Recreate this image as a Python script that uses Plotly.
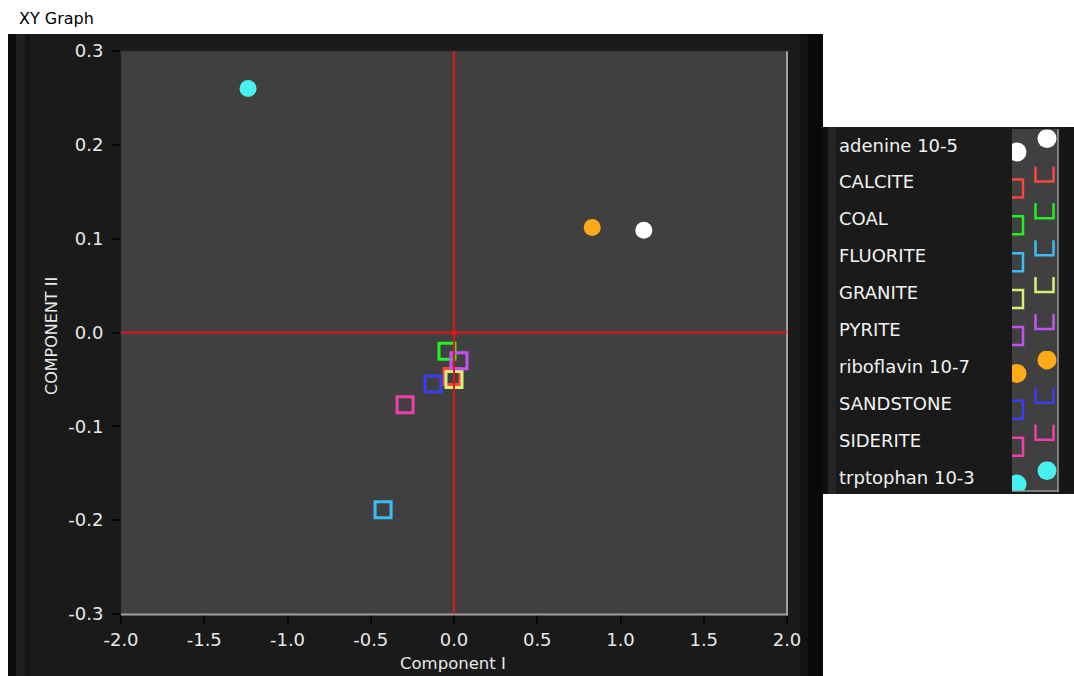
import plotly.graph_objects as go

# ---- data -------------------------------------------------------------
names = ["adenine 10-5", "CALCITE", "COAL", "FLUORITE", "GRANITE", "PYRITE",
         "riboflavin 10-7", "SANDSTONE", "SIDERITE", "trptophan 10-3"]
component_1 = [1.14, -0.012, -0.042, -0.426, 0.000, 0.030, 0.83, -0.126, -0.294, -1.237]
component_2 = [0.109, -0.047, -0.020, -0.189, -0.050, -0.030, 0.112, -0.055, -0.077, 0.260]
colors = ["#ffffff", "#ff4242", "#22f022", "#3cbcf5", "#d6f273", "#c352f2",
          "#ffab18", "#3c3cf5", "#f040a8", "#46f2f0"]
symbols = ["circle", "square-open", "square-open", "square-open", "square-open",
           "square-open", "circle", "square-open", "square-open", "circle"]

x_ticks = [-2.0, -1.5, -1.0, -0.5, 0.0, 0.5, 1.0, 1.5, 2.0]
x_tick_text = ["-2.0", "-1.5", "-1.0", "-0.5", "0.0", "0.5", "1.0", "1.5", "2.0"]
y_ticks = [-0.3, -0.2, -0.1, 0.0, 0.1, 0.2, 0.3]
y_tick_text = ["-0.3", "-0.2", "-0.1", "0.0", "0.1", "0.2", "0.3"]
cursor = (0.0, 0.0)

# ---- page geometry helpers (pixels -> paper fraction) -----------------
W, H = 1074, 676
def px(x):
    return x / W
def py(y):
    return 1 - y / H

FONT = "DejaVu Sans"
TXT = "#e8e8e8"
PLOT_BG = "#404040"
PANEL = "#1a1a1a"

fig = go.Figure()

# main scatter plots
for n, x, y, c, s in zip(names, component_1, component_2, colors, symbols):
    is_open = s.endswith("open")
    fig.add_trace(go.Scatter(
        x=[x], y=[y], mode="markers", name=n, showlegend=False,
        marker=dict(symbol=s, size=16 if is_open else 17, color=c,
                    line=dict(color=c, width=3 if is_open else 0)),
        xaxis="x", yaxis="y"))

# cursor marker at the cross-hair intersection
fig.add_trace(go.Scatter(x=[cursor[0]], y=[cursor[1]], mode="markers",
                         showlegend=False, hoverinfo="skip",
                         marker=dict(symbol="square", size=5, color="#e01616"),
                         xaxis="x", yaxis="y"))

# ---- plot legend: one clipped strip per row in the marker column -------
COL_X0, COL_X1, COL_Y0, COL_Y1 = 1012, 1058, 129, 491
ROW0, ROW_H = 145.0, 36.9
legend_axes = {}
annotations = []
for i, (n, c, s) in enumerate(zip(names, colors, symbols)):
    k = i + 2
    yc = ROW0 + ROW_H * i
    top_raw = yc - 15.5
    top = max(COL_Y0, top_raw)
    bottom = min(COL_Y1, top_raw + ROW_H)
    legend_axes[f"xaxis{k}"] = dict(domain=[px(COL_X0), px(COL_X1)], range=[0, COL_X1 - COL_X0],
                                    visible=False, anchor=f"y{k}", fixedrange=True,
                                    automargin=False)
    legend_axes[f"yaxis{k}"] = dict(domain=[py(bottom), py(top)], range=[bottom, top],
                                    visible=False, anchor=f"x{k}", fixedrange=True,
                                    automargin=False)
    is_open = s.endswith("open")
    if is_open:
        spots = [(2, yc + 6.5), (32.5, yc - 9.5)]
        mk = dict(symbol=s, size=18, color=c, line=dict(color=c, width=2.5))
    else:
        spots = [(5, yc + 7), (35, yc - 6.5)]
        mk = dict(symbol=s, size=19, color=c, line=dict(width=0))
    fig.add_trace(go.Scatter(
        x=[p[0] for p in spots], y=[p[1] for p in spots], mode="markers",
        showlegend=False, hoverinfo="skip", cliponaxis=True, marker=mk,
        xaxis=f"x{k}", yaxis=f"y{k}"))
    annotations.append(dict(text=n, x=px(837), xref="paper", xanchor="left",
                            y=py(yc), yref="paper", yanchor="middle", showarrow=False,
                            font=dict(family=FONT, size=18, color="#f2f2f2")))

annotations += [
    dict(text="XY Graph", x=px(17), y=py(18), xref="paper", yref="paper",
         xanchor="left", yanchor="middle", showarrow=False,
         font=dict(family=FONT, size=16, color="#000000")),
    dict(text="Component I", x=px(453), y=py(663), xref="paper", yref="paper",
         xanchor="center", yanchor="middle", showarrow=False,
         font=dict(family=FONT, size=16.5, color=TXT)),
    dict(text="COMPONENT II", x=px(51), y=py(336), xref="paper", yref="paper",
         xanchor="center", yanchor="middle", showarrow=False, textangle=-90,
         font=dict(family=FONT, size=16, color=TXT)),
]

def rect(x0, y0, x1, y1, fill, layer="below"):
    return dict(type="rect", xref="paper", yref="paper",
                x0=px(x0), x1=px(x1), y0=py(y1), y1=py(y0),
                fillcolor=fill, line=dict(width=0), layer=layer)

def hline(x0, x1, y, color, w):
    return dict(type="line", xref="paper", yref="paper", x0=px(x0), x1=px(x1),
                y0=py(y), y1=py(y), line=dict(color=color, width=w), layer="above")

def vline(x, y0, y1, color, w):
    return dict(type="line", xref="paper", yref="paper", x0=px(x), x1=px(x),
                y0=py(y0), y1=py(y1), line=dict(color=color, width=w), layer="above")

shapes = [
    # graph frame with bevelled edges
    rect(8, 34, 823, 676, PANEL),
    rect(8, 34, 16, 676, "#0c0c0c"),
    rect(16, 34, 25, 676, "#202020"),
    rect(25, 34, 30, 676, "#141414"),
    rect(800, 34, 808, 676, "#121212"),
    rect(808, 34, 823, 676, "#090909"),
    rect(121, 51, 787, 614, PLOT_BG),
    # legend frame
    rect(823, 127, 1074, 494, PANEL),
    rect(823, 127, 828, 494, "#0e0e0e"),
    rect(828, 127, 836, 494, "#242424"),
    rect(1060, 127, 1074, 494, "#161616"),
    rect(COL_X0, COL_Y0, COL_X1, COL_Y1, PLOT_BG),
    # plot area edges
    vline(787, 51, 615.5, "#a0a0a0", 2),
    hline(121, 788, 614.5, "#a0a0a0", 2),
    hline(121, 787, 51, "#2c2c2c", 1),
    vline(121, 51, 614, "#2c2c2c", 1),
    # legend column edges
    vline(COL_X1, COL_Y0, COL_Y1 + 1, "#9a9a9a", 1.5),
    hline(COL_X0, COL_X1 + 1, COL_Y1, "#9a9a9a", 1.5),
    # cursor cross-hair
    dict(type="line", xref="x", yref="y", x0=cursor[0], x1=cursor[0],
         y0=-0.3, y1=0.3, line=dict(color="#e01616", width=2), layer="above"),
    dict(type="line", xref="x", yref="y", x0=-2, x1=2,
         y0=cursor[1], y1=cursor[1], line=dict(color="#e01616", width=2), layer="above"),
]

axis_common = dict(showgrid=False, zeroline=False, showline=False, automargin=False,
                   ticks="outside", tickwidth=1.5, tickcolor="#060606",
                   tickfont=dict(family=FONT, size=18, color=TXT), fixedrange=True)

fig.update_layout(
    width=W, height=H, margin=dict(l=0, r=0, t=0, b=0, pad=0, autoexpand=False),
    paper_bgcolor="#ffffff", plot_bgcolor=PLOT_BG,
    showlegend=False,
    xaxis=dict(domain=[px(121), px(787)], range=[-2, 2], ticklen=9,
               tickvals=x_ticks, ticktext=x_tick_text, anchor="y", **axis_common),
    yaxis=dict(domain=[py(614), py(51)], range=[-0.3, 0.3], ticklen=8,
               ticklabelstandoff=5,
               tickvals=y_ticks, ticktext=y_tick_text, anchor="x", **axis_common),
    annotations=annotations, shapes=shapes,
    **legend_axes,
)

fig.write_html("out.html")
